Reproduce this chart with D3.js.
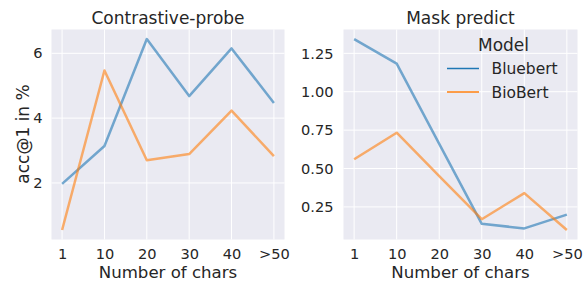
<!DOCTYPE html>
<html>
<head>
<meta charset="utf-8">
<script src="https://cdn.jsdelivr.net/npm/d3@7"></script>
<style>
	body { margin: 0; background: #fff; }
	svg text { font-family: "DejaVu Sans", sans-serif; fill: #262626; }
</style>
</head>
<body>
<svg id="chart" width="585" height="282"></svg>
<script>
// chart values
var categories = ['1', '10', '20', '30', '40', '>50'];
var seriesNames = ['Bluebert', 'BioBert'];
var colors = ['#1f77b4', '#ff7f0e'];

var contrastiveBluebert = [1.97, 3.14, 6.44, 4.68, 6.15, 4.47];
var contrastiveBiobert = [0.55, 5.47, 2.70, 2.89, 4.23, 2.83];
var maskBluebert = [1.343, 1.183, 0.66, 0.14, 0.11, 0.20];
var maskBiobert = [0.56, 0.733, 0.45, 0.17, 0.34, 0.10];

var contrastiveTicks = [2, 4, 6];
var maskTicks = [0.25, 0.50, 0.75, 1.00, 1.25];

var svg = d3.select('#chart');

function drawPanel(opts) {
	var left = opts.left, right = opts.right, top = 29.5, bottom = 239.5;
	var g = svg.append('g');

	g.append('rect')
		.attr('x', left).attr('y', top)
		.attr('width', right - left).attr('height', bottom - top)
		.attr('fill', '#eaeaf2');

	// matplotlib style 5% margins
	var all = opts.series[0].concat(opts.series[1]);
	var lo = d3.min(all), hi = d3.max(all), pad = (hi - lo) * 0.05;
	var y = d3.scaleLinear().domain([lo - pad, hi + pad]).range([bottom, top]);
	var x = d3.scalePoint().domain(categories).range([left, right]).padding(0.25);

	var yAxis = d3.axisLeft(y).tickValues(opts.ticks)
		.tickFormat(opts.fmt).tickSize(0).tickPadding(opts.ypad);
	var xAxis = d3.axisBottom(x).tickSize(0).tickPadding(9.3);

	// grid
	g.selectAll('.hgrid').data(opts.ticks).enter().append('line')
		.attr('x1', left).attr('x2', right)
		.attr('y1', function(d) { return y(d); })
		.attr('y2', function(d) { return y(d); })
		.attr('stroke', '#fff').attr('stroke-width', 1);
	g.selectAll('.vgrid').data(categories).enter().append('line')
		.attr('y1', top).attr('y2', bottom)
		.attr('x1', function(d) { return x(d); })
		.attr('x2', function(d) { return x(d); })
		.attr('stroke', '#fff').attr('stroke-width', 1);

	var ya = g.append('g').attr('transform', 'translate(' + left + ',0)').call(yAxis);
	var xa = g.append('g').attr('transform', 'translate(0,' + bottom + ')').call(xAxis);
	[ya, xa].forEach(function(a) {
		a.select('.domain').remove();
		a.selectAll('text').style('font-size', '14.6px').attr('fill', '#262626');
	});

	var line = d3.line()
		.x(function(d, i) { return x(categories[i]); })
		.y(function(d) { return y(d); });

	opts.series.forEach(function(s, k) {
		g.append('path')
			.datum(s)
			.attr('d', line)
			.attr('fill', 'none')
			.attr('stroke', colors[k])
			.attr('stroke-opacity', 0.6)
			.attr('stroke-width', 2.5)
			.attr('stroke-linejoin', 'round');
	});

	g.append('text')
		.attr('x', (left + right) / 2).attr('y', 24)
		.attr('text-anchor', 'middle')
		.style('font-size', '17px')
		.text(opts.title);

	g.append('text')
		.attr('x', (left + right) / 2).attr('y', 277.8)
		.attr('text-anchor', 'middle')
		.style('font-size', '16.6px')
		.text('Number of chars');

	return {x: x, y: y};
}

drawPanel({
	left: 51.5, right: 284.5,
	series: [contrastiveBluebert, contrastiveBiobert],
	ticks: contrastiveTicks,
	fmt: d3.format('d'),
	ypad: 9,
	title: 'Contrastive-probe'
});

drawPanel({
	left: 343.5, right: 577.5,
	series: [maskBluebert, maskBiobert],
	ticks: maskTicks,
	fmt: d3.format('.2f'),
	ypad: 10,
	title: 'Mask predict'
});

svg.append('text')
	.attr('transform', 'translate(28.5,134) rotate(-90)')
	.attr('text-anchor', 'middle')
	.style('font-size', '17px')
	.text('acc@1 in %');

// legend
var legend = svg.append('g');
legend.append('text')
	.attr('x', 503.5).attr('y', 51)
	.attr('text-anchor', 'middle')
	.style('font-size', '17px')
	.text('Model');
seriesNames.forEach(function(name, i) {
	var ly = 68.5 + i * 23.5;
	legend.append('line')
		.attr('x1', 447).attr('x2', 479)
		.attr('y1', ly).attr('y2', ly)
		.attr('stroke', colors[i]).attr('stroke-width', 1.5);
	legend.append('text')
		.attr('x', 491.5).attr('y', ly + 5.5)
		.style('font-size', '15.5px')
		.text(name);
});
</script>
</body>
</html>
